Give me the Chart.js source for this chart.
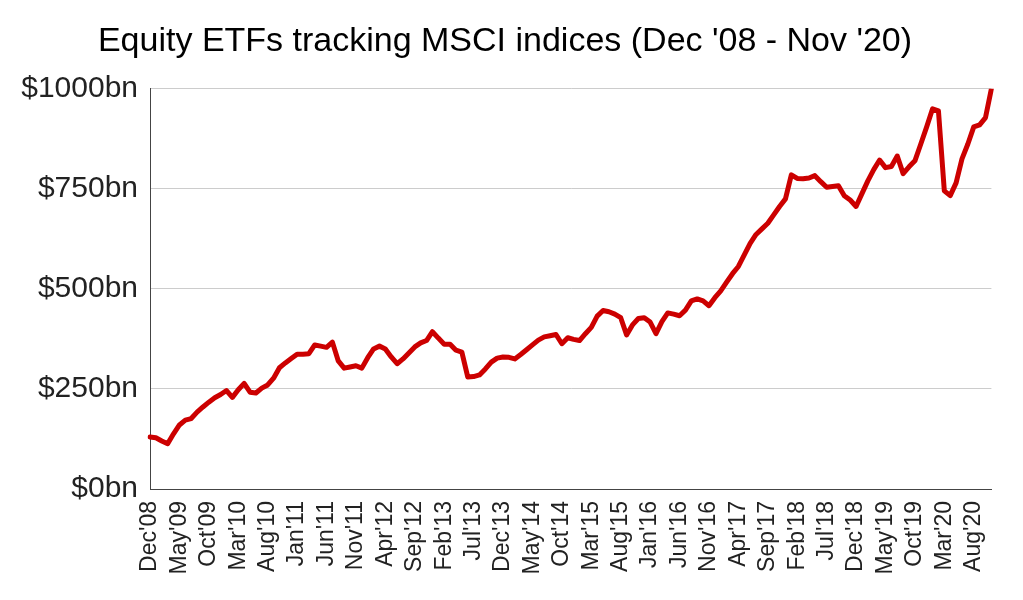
<!DOCTYPE html>
<html>
<head>
<meta charset="utf-8">
<script src="https://cdn.jsdelivr.net/npm/chart.js@4/dist/chart.umd.min.js"></script>
<style>
html, body { margin: 0; padding: 0; background: #fff; }
</style>
</head>
<body>
<canvas id="etf_chart" width="1023" height="600"></canvas>
<script>
// months Dec'08 .. Nov'20 (144 points)
const monthNames = ["Jan", "Feb", "Mar", "Apr", "May", "Jun", "Jul", "Aug", "Sep", "Oct", "Nov", "Dec"]
const startYear = 2008
const startMonth = 11
const monthCount = 144
const labelEvery = 5

// assets in $bn
const aum_2009_2010 = [130, 128, 120, 113, 138, 160, 172, 176, 192, 205, 217, 228, 236, 246, 229, 248, 264, 242, 240, 252, 260, 277, 303, 315]
const aum_2011_2012 = [326, 337, 337, 338, 360, 357, 354, 367, 320, 302, 305, 308, 302, 328, 350, 357, 350, 330, 313, 325, 340, 355, 365, 371]
const aum_2013_2014 = [393, 377, 362, 362, 347, 342, 280, 281, 285, 300, 317, 327, 330, 329, 325, 336, 348, 360, 372, 380, 383, 386, 363, 378]
const aum_2015_2016 = [374, 371, 388, 404, 432, 446, 443, 437, 428, 385, 410, 426, 428, 417, 388, 418, 440, 437, 433, 447, 470, 475, 470, 458]
const aum_2017_2018 = [478, 495, 517, 538, 556, 585, 614, 636, 650, 664, 685, 706, 725, 785, 776, 775, 777, 783, 768, 754, 756, 758, 733, 722]
const aum_2019_2020 = [706, 738, 770, 798, 822, 803, 806, 832, 788, 805, 820, 862, 905, 950, 945, 745, 733, 765, 825, 862, 905, 910, 928, 1000]

const yTicks = [0, 250, 500, 750, 1000]

const aum = [].concat(aum_2009_2010, aum_2011_2012, aum_2013_2014, aum_2015_2016, aum_2017_2018, aum_2019_2020)

const labels = []
for (let i = 0; i < monthCount; i++) {
    const m = (startMonth + i) % 12
    const y = startYear + Math.floor((startMonth + i) / 12)
    labels.push(monthNames[m] + "'" + String(y).slice(2))
}

const ctx = document.getElementById("etf_chart")

new Chart(ctx, {
    type: 'line',
    data: {
        labels: labels,
        datasets: [{
            label: 'Equity ETFs tracking MSCI indices',
            data: aum,
            borderColor: '#cc0000',
            borderWidth: 5,
            borderJoinStyle: 'round',
            borderCapStyle: 'round',
            pointRadius: 0,
            tension: 0
        }]
    },
    options: {
        responsive: false,
        animation: false,
        // a bit of left padding nudges the title toward the page center
        // (y tick labels are clipped to the axis box, so not more than this)
        layout: { padding: { left: 18, right: 31, top: 0, bottom: 0 } },
        plugins: {
            legend: { display: false },
            tooltip: { enabled: false },
            title: {
                display: true,
                text: "Equity ETFs tracking MSCI indices (Dec '08 - Nov '20)",
                color: '#000',
                font: { family: 'Liberation Sans', size: 34, weight: 'normal' },
                padding: { top: 21, bottom: 27 }
            }
        },
        scales: {
            x: {
                grid: { display: false },
                border: { display: true, color: '#444', width: 1 },
                afterFit: (scale) => { scale.height = 111 },
                ticks: {
                    autoSkip: false,
                    minRotation: 90,
                    maxRotation: 90,
                    padding: 4,
                    color: '#222',
                    font: { family: 'Liberation Sans', size: 23 },
                    callback: (val, idx) => idx % labelEvery === 0 ? labels[idx] : ''
                }
            },
            y: {
                min: 0,
                max: 1000,
                afterFit: (scale) => { scale.width = 132 },
                afterBuildTicks: (scale) => { scale.ticks = yTicks.map(v => ({ value: v })) },
                grid: { color: '#cccccc', drawTicks: false },
                border: { display: true, color: '#444', width: 1 },
                ticks: {
                    padding: 12,
                    color: '#222',
                    font: { family: 'Liberation Sans', size: 30 },
                    callback: (v) => '$' + v + 'bn'
                }
            }
        }
    }
})
</script>
</body>
</html>
